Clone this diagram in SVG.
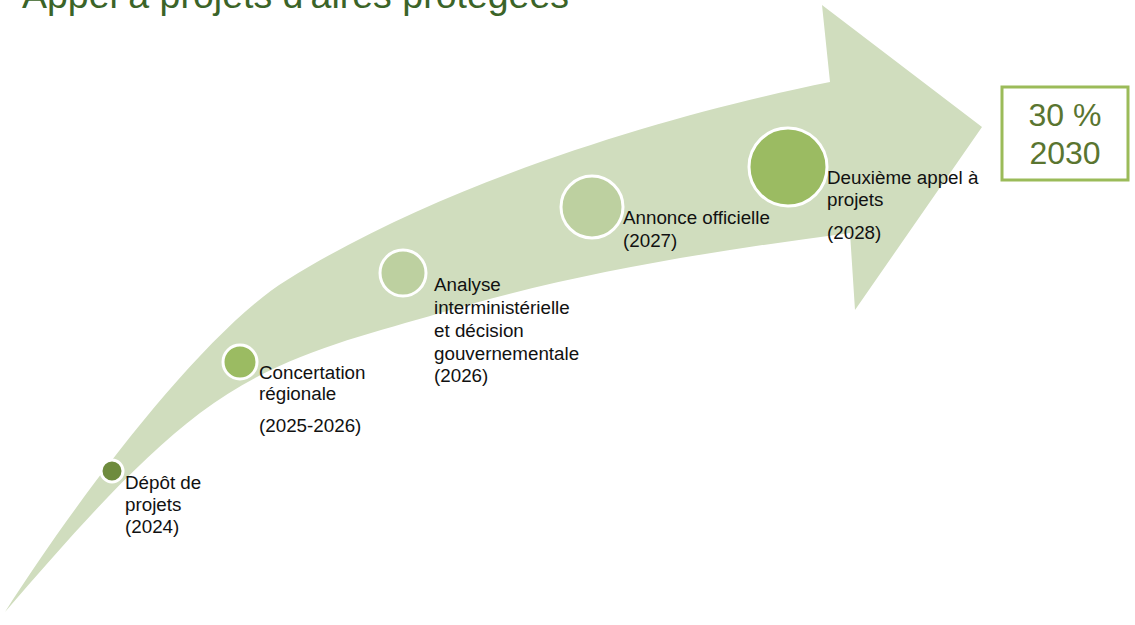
<svg xmlns="http://www.w3.org/2000/svg" width="1135" height="625" viewBox="0 0 1135 625">
<style>
.lbl{font-family:"Liberation Sans",Arial,sans-serif;font-size:18.8px;fill:#111}
.dot{stroke:#fff;stroke-width:3}
.title{font-family:"Liberation Sans",Arial,sans-serif;font-size:37.5px;fill:#3B6428}
.goal{font-family:"Liberation Sans",Arial,sans-serif;font-size:32px;fill:#5A7530;text-anchor:middle}
</style>
<rect width="1135" height="625" fill="#fff"/>
<text class="title" x="22" y="8">Appel à projets d'aires protégées</text>
<g id="arrow">
<path d="M 5,612 C 78,497 205,330 287,280 C 450,178 680,112 830,82 L 822,5 L 982,127 L 855,310 L 850,233 C 713,251 577,272 440,313 C 360,337 280,353 200,413 C 135,462 70,537 5,612 Z" fill="#D0DDBE"/>
</g>
<g id="goal">
<rect x="1002" y="87" width="126" height="93" fill="#fff" stroke="#9BBB59" stroke-width="3"/>
<text class="goal" x="1065" y="126">30 %</text>
<text class="goal" x="1065" y="164">2030</text>
</g>
<g id="depot">
<circle class="dot" cx="112" cy="471" r="11" fill="#6E8B3D"/>
<text class="lbl" x="125" y="489">Dépôt de</text>
<text class="lbl" x="125" y="511">projets</text>
<text class="lbl" x="125" y="533">(2024)</text>
</g>
<g id="concertation">
<circle class="dot" cx="240" cy="362" r="17" fill="#9BBB62"/>
<text class="lbl" x="259" y="379">Concertation</text>
<text class="lbl" x="259" y="400">régionale</text>
<text class="lbl" x="259" y="432">(2025-2026)</text>
</g>
<g id="analyse">
<circle class="dot" cx="403" cy="273" r="23" fill="#BDD0A0"/>
<text class="lbl" x="434" y="291">Analyse</text>
<text class="lbl" x="434" y="314">interministérielle</text>
<text class="lbl" x="434" y="337">et décision</text>
<text class="lbl" x="434" y="360">gouvernementale</text>
<text class="lbl" x="434" y="382">(2026)</text>
</g>
<g id="annonce">
<circle class="dot" cx="592" cy="207" r="31" fill="#BDD0A0"/>
<text class="lbl" x="623" y="224">Annonce officielle</text>
<text class="lbl" x="623" y="247">(2027)</text>
</g>
<g id="deuxieme">
<circle class="dot" cx="788" cy="167" r="39" fill="#9BBB62"/>
<text class="lbl" x="827" y="184">Deuxième appel à</text>
<text class="lbl" x="827" y="206">projets</text>
<text class="lbl" x="827" y="239">(2028)</text>
</g>
<g id="connectors"></g>
</svg>
